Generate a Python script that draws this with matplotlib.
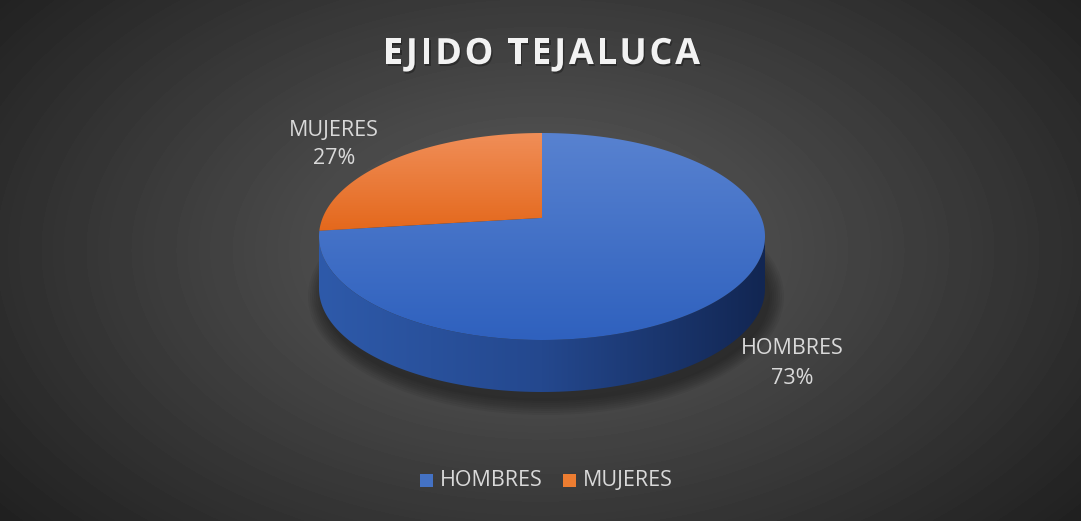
import numpy as np
import matplotlib
matplotlib.use('Agg')
import matplotlib.pyplot as plt
from matplotlib.patches import Polygon, Rectangle, Ellipse
import matplotlib.patheffects as pe

# chart data
title = 'EJIDO TEJALUCA'
categories = ['HOMBRES', 'MUJERES']
values = [73, 27]
top_colors = [((88, 130, 208), (47, 97, 190)), ((240, 142, 88), (228, 104, 28))]
side_colors = [(46, 90, 170), (36, 72, 142), (18, 38, 82)]
legend_colors = ['#4472c4', '#ed7d31']

W, H = 1081, 521
fig = plt.figure(figsize=(W / 100, H / 100), dpi=100)
ax = fig.add_axes([0, 0, 1, 1])

# radial dark background
yy, xx = np.mgrid[0:H, 0:W]
d = np.sqrt(((xx - 540) / 700) ** 2 + ((yy - 250) / 430) ** 2)
g = np.clip(94 - 62 * d, 32, 94) / 255
ax.imshow(g, cmap='gray', vmin=0, vmax=1, extent=(0, W, H, 0), aspect='auto', zorder=0)
ax.set_xlim(0, W)
ax.set_ylim(H, 0)
ax.axis('off')

# pie geometry (pixels), with a bit of perspective
cx, cy, rx, ry, depth = 542, 236.5, 223, 103.5, 52
persp = 0.18


def rim(t, r=1.0):
    t = np.radians(t)
    u, v = r * np.cos(t), r * np.sin(t)
    w = 1 + persp * v
    X = np.sqrt(1 - persp ** 2) * u / w
    Y = (v + persp) / w
    return cx + rx * X, cy - ry * Y


def grad_fill(xy, stops, horizontal, zorder):
    patch = Polygon(xy, closed=True, facecolor='none', edgecolor='none')
    ax.add_patch(patch)
    t = np.linspace(0, 1, 256)
    st = np.linspace(0, 1, len(stops))
    cols = np.stack([np.interp(t, st, [s[i] for s in stops]) for i in range(3)], axis=1) / 255
    img = cols[None, :, :] if horizontal else cols[:, None, :]
    x0, x1 = xy[:, 0].min(), xy[:, 0].max()
    y0, y1 = xy[:, 1].min(), xy[:, 1].max()
    im = ax.imshow(img, extent=(x0, x1, y1, y0), aspect='auto', zorder=zorder,
                   interpolation='bilinear')
    im.set_clip_path(patch)
    ax.set_xlim(0, W)
    ax.set_ylim(H, 0)


# soft shadow under the pie
for k in range(8):
    ax.add_patch(Ellipse((cx + 4, cy + depth + 8), 2 * rx + 30 - 4 * k, 2 * ry + 30 - 4 * k,
                         facecolor='black', edgecolor='none', alpha=0.05, zorder=1))

fr = np.array(values) / sum(values)
ends = 90 - 360 * np.cumsum(fr)
starts = ends + 360 * fr

# front side walls
s0 = 180 + np.degrees(np.arcsin(persp))
s1 = 360 - np.degrees(np.arcsin(persp))
for i in range(len(values)):
    for k in (-1, 0, 1, 2):
        lo = max(ends[i] + 360 * k, s0)
        hi = min(starts[i] + 360 * k, s1)
        if lo < hi:
            t = np.linspace(lo, hi, 200)
            x, y = rim(t)
            xy = np.vstack([np.column_stack([x, y]),
                            np.column_stack([x[::-1], y[::-1] + depth])])
            stops = side_colors if i == 0 else [(200, 95, 30), (150, 70, 20)]
            grad_fill(xy, stops, True, 2)

# top faces
ccx, ccy = rim(0, 0)
for i in range(len(values)):
    t = np.linspace(starts[i], ends[i], 300)
    x, y = rim(t)
    xy = np.vstack([[ccx, ccy], np.column_stack([x, y])])
    grad_fill(xy, list(top_colors[i]), False, 3)

# data labels
lab_font = dict(family='Open Sans', fontsize=15.5, color='#d9d9d9', ha='center', va='center')
ax.text(334, 130, categories[1], **lab_font)
ax.text(334, 158, f'{values[1]}%', **lab_font)
ax.text(792, 348, categories[0], **lab_font)
ax.text(792, 378, f'{values[0]}%', **lab_font)

# legend
leg_x = [420, 563]
for i in range(len(categories)):
    ax.add_patch(Rectangle((leg_x[i], 474), 13, 13, facecolor=legend_colors[i], edgecolor='none', zorder=4))
    ax.text(leg_x[i] + 20, 481, categories[i], family='Open Sans', fontsize=15.5,
            color='#d9d9d9', ha='left', va='center')

# title with letter spacing
fig.canvas.draw()
r = fig.canvas.get_renderer()
tfont = dict(family='Open Sans', fontsize=26, fontweight='bold', color='#f2f2f2', va='baseline')
widths = []
for ch in title:
    if ch == ' ':
        widths.append(9)
        continue
    tt = ax.text(0, 0, ch, **tfont)
    widths.append(tt.get_window_extent(r).width)
    tt.remove()
x0, x1 = 383, 700
gap = (x1 - x0 - sum(widths)) / (len(title) - 1)
x = x0
for ch, w in zip(title, widths):
    if ch != ' ':
        ax.text(x, 64, ch, ha='left', zorder=5,
                path_effects=[pe.withSimplePatchShadow(offset=(1, -1.5), shadow_rgbFace='black', alpha=0.3)],
                **tfont)
    x += w + gap

fig.savefig('out.png', dpi=100)
